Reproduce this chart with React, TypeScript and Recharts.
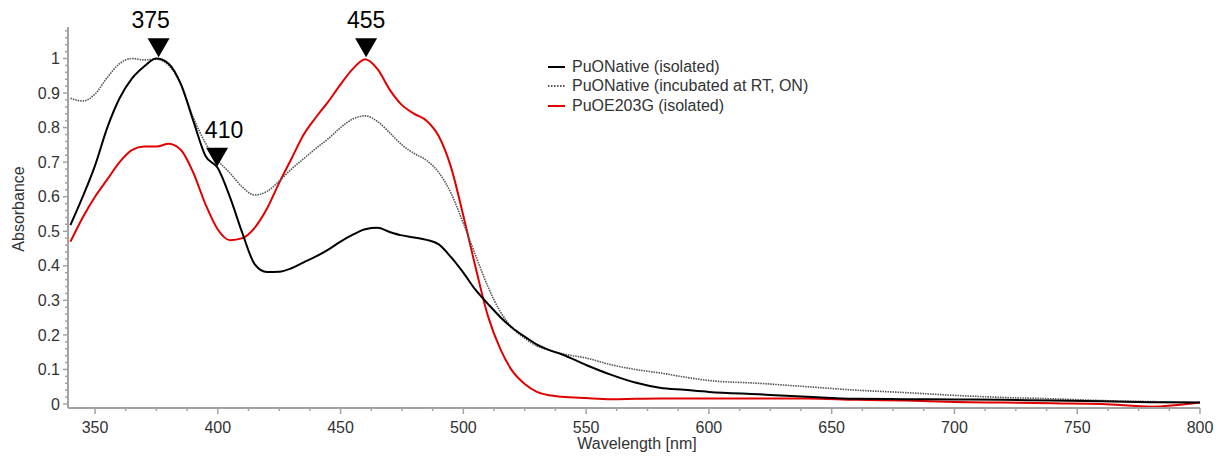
import { LineChart, Line, XAxis, YAxis, ReferenceDot } from 'recharts';

const wavelengths = [
  340, 345, 350, 355, 360, 365, 370, 375, 380, 385, 390, 395, 400, 405, 410, 415, 420, 425, 430, 435,
  440, 445, 450, 455, 460, 465, 470, 475, 480, 485, 490, 495, 500, 505, 510, 515, 520, 525, 530, 535,
  540, 550, 560, 570, 580, 590, 600, 620, 640, 660, 680, 700, 720, 740, 760, 780, 800,
];

const nativeIsolated = [
  0.518, 0.6, 0.69, 0.8, 0.885, 0.942, 0.977, 1.0, 0.985, 0.925, 0.82, 0.718, 0.683, 0.598, 0.495, 0.405, 0.382, 0.383, 0.393, 0.41,
  0.427, 0.447, 0.47, 0.49, 0.506, 0.51, 0.498, 0.488, 0.482, 0.475, 0.462, 0.425, 0.38, 0.33, 0.29, 0.252, 0.22, 0.195, 0.172, 0.156,
  0.144, 0.113, 0.085, 0.062, 0.047, 0.041, 0.035, 0.028, 0.021, 0.015, 0.014, 0.013, 0.012, 0.01, 0.008, 0.005, 0.004,
];

const nativeIncubated = [
  0.885, 0.877, 0.897, 0.945, 0.985, 1.0, 0.996, 0.998, 0.98, 0.925, 0.83, 0.755, 0.705, 0.668, 0.628, 0.605, 0.615, 0.645, 0.68, 0.71,
  0.74, 0.768, 0.8, 0.825, 0.834, 0.818, 0.785, 0.75, 0.725, 0.705, 0.67, 0.61, 0.523, 0.43, 0.34, 0.268, 0.22, 0.19, 0.168, 0.156,
  0.146, 0.133, 0.114, 0.1, 0.09, 0.078, 0.068, 0.06, 0.05, 0.04, 0.033, 0.025, 0.019, 0.015, 0.01, 0.007, 0.004,
];

const e203gIsolated = [
  0.47, 0.54, 0.6, 0.65, 0.7, 0.735, 0.745, 0.745, 0.753, 0.735, 0.67, 0.578, 0.505, 0.474, 0.48, 0.51, 0.565, 0.64, 0.71, 0.78,
  0.83, 0.875, 0.925, 0.97, 0.998, 0.97, 0.91, 0.865, 0.84, 0.82, 0.775, 0.685, 0.545, 0.395, 0.255, 0.16, 0.095, 0.058, 0.035, 0.025,
  0.021, 0.017, 0.014, 0.015, 0.016, 0.016, 0.016, 0.016, 0.016, 0.012, 0.01, 0.006, 0.004, 0.002, 0.0, -0.008, 0.004,
];

const xTickLabels = [350, 400, 450, 500, 550, 600, 650, 700, 750, 800];
const yTickLabels = [0, 0.1, 0.2, 0.3, 0.4, 0.5, 0.6, 0.7, 0.8, 0.9, 1];

const peakLabels = ['375', '410', '455'];
const peakWavelengths = [375.9, 399.7, 460.4];
const peakValues = [1.004, 0.687, 1.004];

const seriesNames = ['PuONative (isolated)', 'PuONative (incubated at RT, ON)', 'PuOE203G (isolated)'];

const data = wavelengths.map((w, i) => ({
  w,
  native: nativeIsolated[i],
  incubated: nativeIncubated[i],
  e203g: e203gIsolated[i],
}));

// minor ticks: 12.5 nm on x, 0.02 on y
const xTicks = Array.from({ length: 37 }, (_, i) => 350 + i * 12.5);
const yTicks = Array.from({ length: 55 }, (_, i) => Math.round(i * 2) / 100);

const FONT = '"Liberation Sans", Arial, sans-serif';
const AXIS = '#a3a3a3';
const TEXT = '#333';

const XTick = ({ x, y, payload }: any) => {
  const v = payload.value;
  const major = xTickLabels.includes(v);
  return (
    <g>
      <line x1={x} x2={x} y1={y} y2={y + (major ? 6 : 3)} stroke={AXIS} strokeWidth={1.5} />
      {major && (
        <text x={x} y={y + 25} textAnchor="middle" fontSize={16} fill={TEXT} fontFamily={FONT}>
          {v}
        </text>
      )}
    </g>
  );
};

const YTick = ({ x, y, payload }: any) => {
  const v = payload.value;
  const major = yTickLabels.some(t => Math.abs(t - v) < 1e-6);
  return (
    <g>
      <line x1={x - (major ? 5 : 3)} x2={x} y1={y} y2={y} stroke={AXIS} strokeWidth={1.5} />
      {major && (
        <text x={x - 8} y={y + 5.7} textAnchor="end" fontSize={16} fill={TEXT} fontFamily={FONT}>
          {v}
        </text>
      )}
    </g>
  );
};

const labelShift: Record<string, number> = { '375': -8, '410': 7, '455': 0 };

const PeakMarker = (label: string) => (props: any) => {
  const { cx, cy } = props;
  return (
    <g>
      <polygon points={`${cx - 11},${cy - 19} ${cx + 11},${cy - 19} ${cx},${cy}`} fill="#000" />
      <text x={cx + labelShift[label]} y={cy - 29} textAnchor="middle" fontSize={23} fill="#000" fontFamily={FONT}>
        {label}
      </text>
    </g>
  );
};

const legendStyles = [
  { stroke: '#000', dash: undefined },
  { stroke: '#555', dash: '1.5 1.5' },
  { stroke: '#e00000', dash: undefined },
];

export default function App() {
  return (
    <div style={{ position: 'absolute', left: 0, top: 0, width: 1223, height: 457, background: '#fff' }}>
      <LineChart width={1223} height={457} data={data} margin={{ top: 27, right: 23, bottom: 0, left: 0 }}>
        <XAxis
          dataKey="w"
          type="number"
          domain={[339, 800]}
          ticks={xTicks}
          interval={0}
          tick={<XTick />}
          tickLine={false}
          tickSize={0}
          tickMargin={0}
          height={49}
          axisLine={{ stroke: AXIS, strokeWidth: 2 }}
          allowDataOverflow
        />
        <YAxis
          type="number"
          domain={[-0.0116, 1.0912]}
          ticks={yTicks}
          interval={0}
          tick={<YTick />}
          tickLine={false}
          tickSize={0}
          tickMargin={0}
          width={68}
          axisLine={{ stroke: AXIS, strokeWidth: 2 }}
          allowDataOverflow
        />
        <Line dataKey="e203g" type="monotone" stroke="#e00000" strokeWidth={2} dot={false} isAnimationActive={false} />
        <Line
          dataKey="incubated"
          type="monotone"
          stroke="#555"
          strokeWidth={1.6}
          strokeDasharray="1.5 1"
          dot={false}
          isAnimationActive={false}
        />
        <Line dataKey="native" type="monotone" stroke="#000" strokeWidth={2} dot={false} isAnimationActive={false} />
        {peakLabels.map((l, i) => (
          <ReferenceDot
            key={l}
            x={peakWavelengths[i]}
            y={peakValues[i]}
            r={0}
            ifOverflow="visible"
            shape={PeakMarker(l)}
          />
        ))}
        <text x={18} y={209} transform="rotate(-90 18 209)" textAnchor="middle" dominantBaseline="central" fontSize={16} fill={TEXT} fontFamily={FONT}>
          Absorbance
        </text>
        <text x={637} y={449} textAnchor="middle" fontSize={16} fill={TEXT} fontFamily={FONT}>
          Wavelength [nm]
        </text>
      </LineChart>
      <div style={{ position: 'absolute', left: 548, top: 57, fontFamily: FONT, fontSize: 16, color: TEXT }}>
        {seriesNames.map((name, i) => (
          <div key={name} style={{ display: 'flex', alignItems: 'center', height: 19.5 }}>
            <svg width={17} height={4} style={{ marginRight: 7 }}>
              <line
                x1={0}
                x2={17}
                y1={2}
                y2={2}
                stroke={legendStyles[i].stroke}
                strokeWidth={2}
                strokeDasharray={legendStyles[i].dash}
              />
            </svg>
            <span>{name}</span>
          </div>
        ))}
      </div>
    </div>
  );
}
